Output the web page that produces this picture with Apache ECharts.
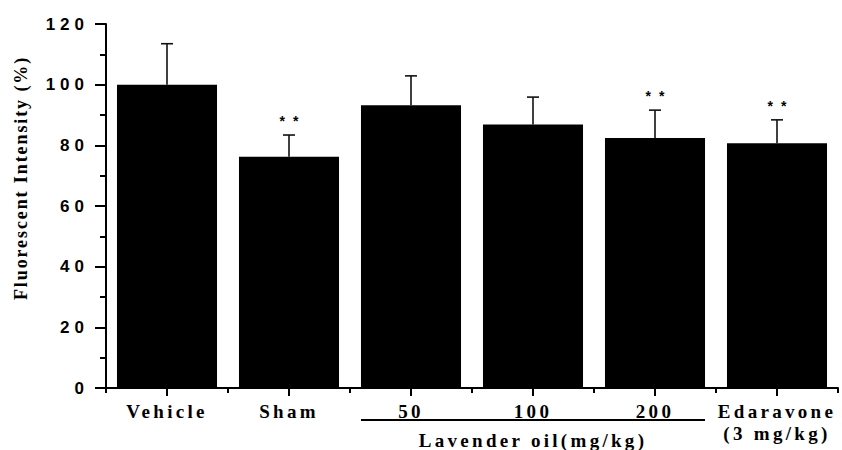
<!DOCTYPE html>
<html>
<head>
<meta charset="utf-8">
<script src="https://cdn.jsdelivr.net/npm/echarts@6/dist/echarts.min.js"></script>
<style>
html, body { margin: 0; padding: 0; background: #fff; }
#chart { width: 842px; height: 450px; }
#chart text[style*="17px"] { letter-spacing: 5px; }
#chart text[style*="18px"] { letter-spacing: 1.9px; }
#chart text[style*="19px"] { letter-spacing: 3.3px; }
#chart text[style*="14px"] { letter-spacing: 8px; }
</style>
</head>
<body>
<div id="chart"></div>
<script>
const categories = ['Vehicle', 'Sham', '50', '100', '200', 'Edaravone\n(3 mg/kg)'];
const meanValues = [100, 76.2, 93.2, 86.9, 82.4, 80.7];
const semValues = [13.5, 7.2, 9.7, 9.0, 9.2, 7.7];
const significance = ['', '**', '', '', '**', '**'];
const yMin = 0;
const yMax = 120;
const yStep = 20;
const groupLabel = 'Lavender oil(mg/kg)';
const groupMembers = [2, 3, 4];
const yTitle = 'Fluorescent Intensity (%)';

const chart = echarts.init(document.getElementById('chart'), null, { renderer: 'svg' });

const axisBlack = { color: '#000', width: 2 };

const option = {
  backgroundColor: '#fff',
  animation: false,
  grid: { left: 106, right: 4, top: 24, bottom: 62, containLabel: false },
  xAxis: [
    {
      type: 'category',
      data: categories,
      position: 'bottom',
      axisLine: { show: true, lineStyle: axisBlack },
      axisTick: { show: true, alignWithLabel: true, length: 8, interval: 0, lineStyle: axisBlack },
      axisLabel: {
        interval: 0, margin: 12, color: '#000',
        fontFamily: 'Liberation Serif', fontWeight: 'bold', fontSize: 19, lineHeight: 22
      },
      splitLine: { show: false }
    },
    {
      type: 'category',
      data: categories,
      position: 'bottom',
      axisLine: { show: false },
      axisTick: { show: true, length: 5, interval: 0, lineStyle: axisBlack },
      axisLabel: { show: false },
      splitLine: { show: false }
    }
  ],
  yAxis: {
    type: 'value',
    min: yMin, max: yMax, interval: yStep,
    axisLine: { show: true, lineStyle: axisBlack },
    axisTick: { show: true, length: 11, lineStyle: axisBlack },
    minorTick: { show: true, splitNumber: 2, length: 6, lineStyle: axisBlack },
    splitLine: { show: false },
    minorSplitLine: { show: false },
    axisLabel: {
      margin: 17, color: '#000',
      fontFamily: 'Liberation Sans', fontWeight: 'bold', fontSize: 17
    }
  },
  series: [
    {
      type: 'bar',
      data: meanValues,
      xAxisIndex: 0,
      yAxisIndex: 0,
      barCategoryGap: '18%',
      itemStyle: { color: '#000' },
      z: 2
    },
    {
      type: 'custom',
      xAxisIndex: 0,
      yAxisIndex: 0,
      z: 3,
      data: meanValues.map((m, i) => [i, m, semValues[i]]),
      renderItem: function (params, api) {
        const i = api.value(0);
        const m = api.value(1);
        const e = api.value(2);
        const base = api.coord([i, m]);
        const top = api.coord([i, m + e]);
        const children = [
          { type: 'line', shape: { x1: base[0], y1: base[1], x2: top[0], y2: top[1] },
            style: { stroke: '#111', lineWidth: 1.6 } },
          { type: 'line', shape: { x1: top[0] - 6, y1: top[1], x2: top[0] + 6, y2: top[1] },
            style: { stroke: '#111', lineWidth: 1.6 } }
        ];
        const sig = significance[i];
        if (sig) {
          children.push({
            type: 'text', x: top[0] + 4, y: top[1] - 7,
            style: { text: sig, fontSize: 14, fontWeight: 'bold', fontFamily: 'Liberation Sans',
                     fill: '#000', align: 'center', verticalAlign: 'bottom' }
          });
        }
        return { type: 'group', children: children };
      }
    }
  ]
};

chart.setOption(option);

const cFirst = chart.convertToPixel({ xAxisIndex: 0 }, groupMembers[0]);
const cMid = chart.convertToPixel({ xAxisIndex: 0 }, groupMembers[1]);
const cLast = chart.convertToPixel({ xAxisIndex: 0 }, groupMembers[2]);
const band = cMid - cFirst;
const halfBar = band * 0.82 / 2;
const yZero = chart.convertToPixel({ yAxisIndex: 0 }, 0);
const yTopPx = chart.convertToPixel({ yAxisIndex: 0 }, yMax);

chart.setOption({
  graphic: [
    {
      type: 'line',
      shape: { x1: cFirst - halfBar, y1: yZero + 32, x2: cLast + halfBar, y2: yZero + 32 },
      style: { stroke: '#000', lineWidth: 2 }
    },
    {
      type: 'text',
      x: cMid, y: yZero + 42.5,
      style: { text: groupLabel, fontSize: 19, fontWeight: 'bold', fontFamily: 'Liberation Serif',
               fill: '#000', align: 'center', verticalAlign: 'top' }
    },
    {
      type: 'text',
      x: 21, y: (yZero + yTopPx) / 2 - 28,
      rotation: Math.PI / 2,
      style: { text: yTitle, fontSize: 18, fontWeight: 'bold', fontFamily: 'Liberation Serif',
               fill: '#000', align: 'center', verticalAlign: 'middle' }
    }
  ]
});
</script>
</body>
</html>
